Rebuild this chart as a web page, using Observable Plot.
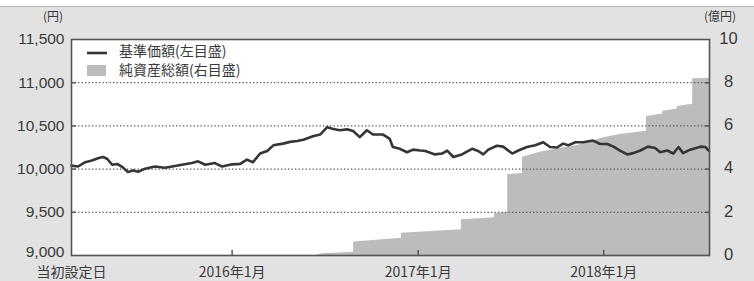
<!DOCTYPE html>
<html><head><meta charset="utf-8">
<script src="https://cdn.jsdelivr.net/npm/d3@7"></script>
<script src="https://cdn.jsdelivr.net/npm/@observablehq/plot@0.6"></script>
<style>
html,body{margin:0;padding:0;background:#e2e2e2;}
#wrap{position:relative;width:754px;height:281px;overflow:hidden;}
#chart{position:absolute;left:0;top:0;}
#topband{position:absolute;left:0;top:0;width:754px;height:6px;background:#fff;border-bottom:1.5px solid #b3b3b3;z-index:2;}
</style></head><body>
<div id="wrap"><div id="chart"></div><div id="topband"></div></div>
<script>
// 基準価額 (円)
const navDates = ["2015-02-19","2015-03-04","2015-03-18","2015-03-31","2015-04-12","2015-04-22","2015-04-30","2015-05-10","2015-05-20","2015-05-31","2015-06-10","2015-06-20","2015-06-30","2015-07-14","2015-08-02","2015-08-22","2015-09-05","2015-09-24","2015-10-14","2015-10-26","2015-11-09","2015-11-28","2015-12-12","2016-01-01","2016-01-17","2016-01-30","2016-02-11","2016-02-25","2016-03-10","2016-03-22","2016-04-10","2016-04-24","2016-05-08","2016-05-20","2016-06-08","2016-06-22","2016-07-06","2016-07-18","2016-07-31","2016-08-14","2016-08-26","2016-09-08","2016-09-22","2016-10-04","2016-10-24","2016-11-06","2016-11-12","2016-11-26","2016-12-10","2016-12-22","2017-01-05","2017-01-15","2017-02-03","2017-02-17","2017-02-27","2017-03-11","2017-03-28","2017-04-17","2017-04-29","2017-05-09","2017-05-19","2017-06-05","2017-06-17","2017-07-05","2017-07-17","2017-08-03","2017-08-19","2017-09-04","2017-09-17","2017-10-01","2017-10-13","2017-10-23","2017-11-06","2017-11-21","2017-12-11","2017-12-25","2018-01-08","2018-01-20","2018-02-02","2018-02-16","2018-02-28","2018-03-14","2018-03-29","2018-04-12","2018-04-22","2018-05-06","2018-05-18","2018-05-28","2018-06-06","2018-06-20","2018-07-10","2018-07-20","2018-07-27"];
const navValues = [10040,10030,10080,10100,10125,10140,10120,10050,10060,10020,9965,9985,9970,10005,10030,10015,10030,10050,10070,10090,10050,10070,10030,10055,10060,10110,10080,10180,10210,10275,10295,10315,10325,10340,10380,10400,10485,10465,10450,10460,10440,10370,10450,10400,10400,10350,10255,10235,10195,10225,10215,10210,10170,10180,10215,10140,10170,10235,10210,10170,10225,10270,10260,10180,10215,10255,10275,10310,10255,10250,10295,10275,10310,10310,10330,10290,10290,10260,10215,10170,10185,10215,10260,10245,10195,10215,10180,10255,10185,10225,10260,10255,10210];

// 純資産総額 (億円)
const assetDates = ["2015-02-19","2016-06-12","2016-06-26","2016-08-27","2016-08-27","2016-11-29","2016-11-29","2017-03-27","2017-03-27","2017-05-31","2017-05-31","2017-06-26","2017-06-26","2017-07-25","2017-07-25","2017-08-29","2017-10-13","2017-11-10","2018-01-01","2018-02-02","2018-03-26","2018-03-26","2018-04-27","2018-04-27","2018-05-26","2018-05-26","2018-06-25","2018-06-25","2018-07-28"];
const assetValues = [0,0,0.08,0.15,0.62,0.8,1.03,1.19,1.65,1.75,1.93,2.0,3.75,3.8,4.55,4.78,4.99,5.09,5.45,5.6,5.75,6.44,6.55,6.68,6.78,6.9,7.0,8.18,8.2];

const leftTicks = [9000, 9500, 10000, 10500, 11000, 11500];
const rightTicks = [0, 2, 4, 6, 8, 10];
const gridValues = [9500, 10000, 10500, 11000];
const xTickDates = ["2015-02-19", "2016-01-01", "2017-01-01", "2018-01-01"];
const xTickLabels = ["当初設定日", "2016年1月", "2017年1月", "2018年1月"];
const xDomain = ["2015-02-19", "2018-07-28"];
const legendLabels = ["基準価額(左目盛)", "純資産総額(右目盛)"];
const unitLeft = "(円)";
const unitRight = "(億円)";

const parse = d3.utcParse("%Y-%m-%d");
const nav = navDates.map((d, i) => ({date: parse(d), v: navValues[i]}));
const assets = assetDates.map((d, i) => ({date: parse(d), v: assetValues[i]}));
const yMin = leftTicks[0], yMax = leftTicks[leftTicks.length - 1];
const rMax = rightTicks[rightTicks.length - 1];
const toLeft = v => yMin + v * (yMax - yMin) / rMax;
const tickDates = xTickDates.map(parse);
const fmt = d3.format(",");

const font = "'Noto Sans CJK JP', 'Noto Sans', sans-serif";
const numFont = "'Liberation Sans', Arial, sans-serif";
const textColor = "#3a3a3a";

const plot = Plot.plot({
  width: 754,
  height: 281,
  marginLeft: 71,
  marginRight: 45,
  marginTop: 39,
  marginBottom: 26,
  style: {background: "transparent", fontFamily: font, fontSize: "16px", color: textColor},
  x: {type: "utc", domain: xDomain.map(parse)},
  y: {domain: [yMin, yMax]},
  marks: [
    Plot.frame({fill: "white", stroke: null}),
    Plot.areaY(assets, {x: "date", y1: yMin, y2: d => toLeft(d.v), fill: "#bcbcbc", curve: "linear", clip: true}),
    Plot.ruleY(gridValues, {stroke: "#555", strokeWidth: 1.2, strokeDasharray: "1.3,2.2"}),
    Plot.lineY(nav, {x: "date", y: "v", stroke: "#353535", strokeWidth: 2.6, strokeLinejoin: "round"}),
    Plot.axisY({ticks: leftTicks.slice(1), anchor: "left", tickSize: 0, tickPadding: 7, tickFormat: fmt, fontSize: 15.5,
      fontFamily: numFont, label: null}),
    Plot.axisY({ticks: leftTicks.slice(0, 1), anchor: "left", tickSize: 0, tickPadding: 7, tickFormat: fmt, fontSize: 15.5,
      fontFamily: numFont, dy: -3.3, label: null}),
    Plot.axisY({ticks: gridValues, anchor: "left", tickSize: -5, tickFormat: () => "", stroke: "#555", strokeWidth: 1.5, label: null}),
    Plot.axisY({ticks: rightTicks.map(toLeft), anchor: "right", tickSize: 0, tickPadding: 19, textAnchor: "middle",
      tickFormat: d => String(Math.round((d - yMin) * rMax / (yMax - yMin))), fontSize: 16.5,
      fontFamily: numFont, dy: -1, label: null}),
    Plot.axisY({ticks: gridValues, anchor: "right", tickSize: -5, tickFormat: () => "", stroke: "#555", strokeWidth: 1.5, label: null}),
    Plot.axisX({ticks: tickDates, anchor: "bottom", tickSize: 0, tickPadding: 11.5,
      tickFormat: d => xTickLabels[tickDates.findIndex(t => +t === +d)], fontSize: 14, label: null}),
    Plot.axisX({ticks: tickDates.slice(1), anchor: "bottom", tickSize: -5, tickFormat: () => "", stroke: "#555", strokeWidth: 1.5, label: null}),
    Plot.frame({stroke: "#555", strokeWidth: 1.6})
  ]
});

const svg = d3.select(plot);
svg.append("text").text(unitLeft).attr("x", 63).attr("y", 18).attr("text-anchor", "end")
  .attr("dominant-baseline", "middle").attr("font-size", 12).attr("fill", textColor);
svg.append("text").text(unitRight).attr("x", 736).attr("y", 18).attr("text-anchor", "end")
  .attr("dominant-baseline", "middle").attr("font-size", 12).attr("fill", textColor);
const lg = svg.append("g").attr("font-size", 14).attr("fill", textColor).attr("text-anchor", "start");
lg.append("line").attr("x1", 87).attr("x2", 107).attr("y1", 53).attr("y2", 53)
  .attr("stroke", "#353535").attr("stroke-width", 2.6);
lg.append("rect").attr("x", 87).attr("y", 65).attr("width", 19).attr("height", 11).attr("fill", "#bcbcbc");
lg.append("text").text(legendLabels[0]).attr("x", 119).attr("y", 52).attr("dominant-baseline", "middle");
lg.append("text").text(legendLabels[1]).attr("x", 119).attr("y", 71).attr("dominant-baseline", "middle");

document.getElementById("chart").appendChild(plot);
</script>
</body></html>
